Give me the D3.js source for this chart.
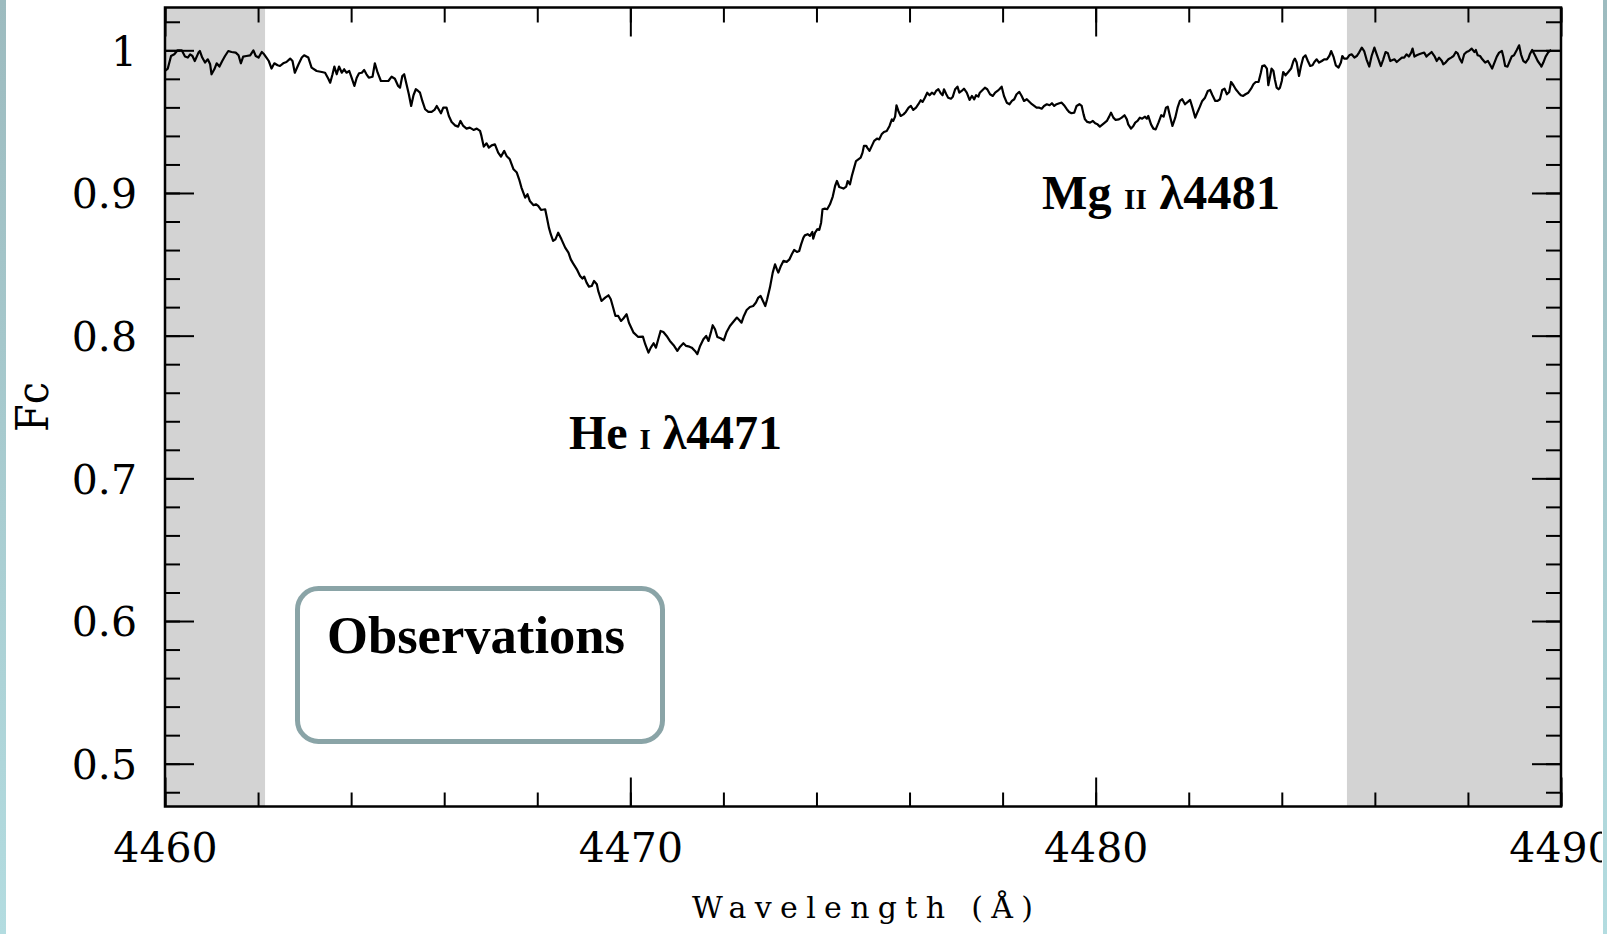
<!DOCTYPE html>
<html>
<head>
<meta charset="utf-8">
<script src="https://cdn.jsdelivr.net/npm/d3@7"></script>
<style>
  body { margin: 0; background: #fff; }
  svg { display: block; }
  .axis text { font-family: "DejaVu Serif", serif; font-size: 41px; fill: #000; }
  .axis line { stroke: #000; stroke-width: 2; }
  .axis .domain { display: none; }
</style>
</head>
<body>
<div id="chart"></div>
<script>
const spectrum_4460_4470 = [
  [4460.00,0.9855],[4460.06,0.9872],[4460.13,0.9960],[4460.20,0.9972],[4460.27,1.0000],[4460.36,1.0000],[4460.43,0.9956],[4460.49,0.9949],
  [4460.54,0.9972],[4460.59,0.9960],[4460.64,0.9925],[4460.72,0.9984],[4460.75,0.9995],[4460.80,0.9949],[4460.86,0.9914],[4460.92,0.9937],
  [4460.97,0.9902],[4461.00,0.9832],[4461.06,0.9867],[4461.11,0.9909],[4461.17,0.9886],[4461.23,0.9925],[4461.29,0.9960],[4461.36,0.9995],
  [4461.43,0.9988],[4461.52,0.9984],[4461.58,0.9965],[4461.63,0.9909],[4461.68,0.9956],[4461.75,0.9960],[4461.83,0.9965],[4461.90,1.0000],
  [4461.95,0.9960],[4462.01,0.9949],[4462.08,0.9988],[4462.13,0.9972],[4462.18,0.9949],[4462.23,0.9925],[4462.29,0.9872],[4462.35,0.9909],
  [4462.42,0.9895],[4462.47,0.9890],[4462.54,0.9909],[4462.61,0.9918],[4462.69,0.9942],[4462.74,0.9925],[4462.79,0.9843],[4462.87,0.9902],
  [4462.94,0.9949],[4462.99,0.9965],[4463.08,0.9949],[4463.15,0.9879],[4463.26,0.9855],[4463.37,0.9848],[4463.44,0.9843],[4463.51,0.9801],
  [4463.55,0.9773],[4463.60,0.9832],[4463.64,0.9886],[4463.69,0.9832],[4463.74,0.9886],[4463.80,0.9843],[4463.85,0.9867],[4463.90,0.9843],
  [4463.96,0.9855],[4464.01,0.9808],[4464.07,0.9750],[4464.12,0.9808],[4464.17,0.9839],[4464.23,0.9843],[4464.28,0.9862],[4464.33,0.9832],
  [4464.38,0.9808],[4464.46,0.9815],[4464.51,0.9909],[4464.57,0.9843],[4464.64,0.9785],[4464.73,0.9785],[4464.80,0.9785],[4464.87,0.9815],
  [4464.94,0.9801],[4465.01,0.9750],[4465.05,0.9738],[4465.10,0.9820],[4465.14,0.9832],[4465.19,0.9762],[4465.24,0.9692],[4465.29,0.9610],
  [4465.34,0.9685],[4465.39,0.9727],[4465.44,0.9715],[4465.48,0.9703],[4465.53,0.9645],[4465.59,0.9587],[4465.66,0.9568],[4465.73,0.9568],
  [4465.79,0.9582],[4465.84,0.9610],[4465.89,0.9582],[4465.93,0.9559],[4465.98,0.9598],[4466.05,0.9598],[4466.10,0.9540],[4466.16,0.9498],
  [4466.23,0.9474],[4466.30,0.9465],[4466.35,0.9505],[4466.41,0.9470],[4466.48,0.9451],[4466.55,0.9458],[4466.63,0.9442],[4466.70,0.9451],
  [4466.77,0.9435],[4466.80,0.9400],[4466.85,0.9325],[4466.91,0.9348],[4466.96,0.9318],[4467.02,0.9334],[4467.09,0.9341],[4467.16,0.9283],
  [4467.22,0.9255],[4467.29,0.9295],[4467.34,0.9260],[4467.41,0.9236],[4467.49,0.9166],[4467.56,0.9143],[4467.61,0.9096],[4467.66,0.9038],
  [4467.74,0.8967],[4467.79,0.8991],[4467.84,0.8944],[4467.92,0.8914],[4467.97,0.8921],[4468.02,0.8909],[4468.08,0.8881],[4468.17,0.8886],
  [4468.20,0.8839],[4468.25,0.8757],[4468.29,0.8711],[4468.34,0.8664],[4468.39,0.8675],[4468.45,0.8722],[4468.52,0.8675],[4468.60,0.8617],
  [4468.67,0.8582],[4468.72,0.8535],[4468.77,0.8507],[4468.85,0.8465],[4468.92,0.8418],[4468.97,0.8400],[4469.01,0.8414],[4469.06,0.8372],
  [4469.11,0.8344],[4469.17,0.8348],[4469.22,0.8383],[4469.28,0.8360],[4469.31,0.8314],[4469.38,0.8243],[4469.46,0.8267],[4469.53,0.8283],
  [4469.58,0.8255],[4469.63,0.8197],[4469.68,0.8138],[4469.74,0.8138],[4469.80,0.8103],[4469.85,0.8120],[4469.92,0.8150],[4469.97,0.8091]
];

const spectrum_4470_4480 = [
  [4470.07,0.8021],[4470.17,0.7991],[4470.27,0.7993],[4470.32,0.7940],[4470.39,0.7881],[4470.44,0.7916],[4470.50,0.7947],[4470.55,0.7916],
  [4470.60,0.7975],[4470.65,0.8033],[4470.71,0.8026],[4470.78,0.7998],[4470.85,0.7963],[4470.93,0.7933],[4471.01,0.7893],[4471.07,0.7923],
  [4471.14,0.7947],[4471.20,0.7928],[4471.27,0.7923],[4471.32,0.7916],[4471.39,0.7893],[4471.44,0.7870],[4471.50,0.7928],[4471.57,0.7975],
  [4471.63,0.7998],[4471.68,0.7963],[4471.73,0.8021],[4471.77,0.8073],[4471.82,0.8045],[4471.87,0.7991],[4471.94,0.7982],[4472.01,0.7968],
  [4472.07,0.8026],[4472.14,0.8068],[4472.21,0.8096],[4472.29,0.8127],[4472.34,0.8110],[4472.39,0.8091],[4472.44,0.8138],[4472.50,0.8180],
  [4472.57,0.8201],[4472.64,0.8208],[4472.70,0.8232],[4472.75,0.8267],[4472.80,0.8278],[4472.85,0.8243],[4472.90,0.8208],[4472.94,0.8255],
  [4473.00,0.8337],[4473.06,0.8442],[4473.11,0.8500],[4473.15,0.8465],[4473.18,0.8442],[4473.23,0.8484],[4473.29,0.8524],[4473.36,0.8517],
  [4473.42,0.8535],[4473.47,0.8570],[4473.52,0.8601],[4473.58,0.8587],[4473.63,0.8594],[4473.67,0.8640],[4473.72,0.8687],[4473.75,0.8703],
  [4473.81,0.8711],[4473.86,0.8699],[4473.91,0.8727],[4473.93,0.8680],[4473.97,0.8722],[4474.02,0.8746],[4474.06,0.8741],[4474.10,0.8792],
  [4474.13,0.8886],[4474.18,0.8890],[4474.23,0.8886],[4474.29,0.8921],[4474.35,0.8975],[4474.40,0.9049],[4474.44,0.9084],[4474.49,0.9042],
  [4474.58,0.9031],[4474.64,0.9045],[4474.67,0.9084],[4474.72,0.9061],[4474.76,0.9119],[4474.81,0.9178],[4474.85,0.9224],[4474.90,0.9236],
  [4474.95,0.9248],[4474.99,0.9283],[4475.02,0.9330],[4475.07,0.9330],[4475.09,0.9318],[4475.14,0.9295],[4475.19,0.9330],[4475.24,0.9365],
  [4475.30,0.9381],[4475.35,0.9376],[4475.40,0.9411],[4475.45,0.9428],[4475.51,0.9435],[4475.57,0.9470],[4475.62,0.9516],[4475.65,0.9505],
  [4475.69,0.9535],[4475.72,0.9615],[4475.76,0.9575],[4475.81,0.9540],[4475.87,0.9551],[4475.92,0.9568],[4475.98,0.9598],[4476.03,0.9610],
  [4476.08,0.9582],[4476.14,0.9598],[4476.19,0.9622],[4476.24,0.9650],[4476.28,0.9638],[4476.33,0.9668],[4476.38,0.9703],[4476.43,0.9685],
  [4476.48,0.9703],[4476.53,0.9692],[4476.57,0.9715],[4476.62,0.9727],[4476.67,0.9699],[4476.71,0.9685],[4476.74,0.9727],[4476.79,0.9692],
  [4476.83,0.9668],[4476.89,0.9661],[4476.93,0.9675],[4476.98,0.9727],[4477.03,0.9745],[4477.07,0.9703],[4477.12,0.9715],[4477.17,0.9731],
  [4477.23,0.9703],[4477.29,0.9652],[4477.34,0.9680],[4477.39,0.9657],[4477.43,0.9685],[4477.48,0.9675],[4477.51,0.9703],[4477.57,0.9722],
  [4477.62,0.9738],[4477.67,0.9727],[4477.73,0.9692],[4477.79,0.9680],[4477.84,0.9703],[4477.89,0.9715],[4477.93,0.9727],[4477.98,0.9745],
  [4478.03,0.9680],[4478.09,0.9633],[4478.15,0.9622],[4478.20,0.9645],[4478.25,0.9657],[4478.30,0.9692],[4478.36,0.9708],[4478.41,0.9680],
  [4478.46,0.9645],[4478.52,0.9657],[4478.58,0.9638],[4478.63,0.9622],[4478.68,0.9610],[4478.73,0.9598],[4478.79,0.9598],[4478.84,0.9591],
  [4478.89,0.9610],[4478.95,0.9622],[4479.01,0.9615],[4479.06,0.9629],[4479.11,0.9610],[4479.16,0.9622],[4479.22,0.9629],[4479.27,0.9633],
  [4479.32,0.9615],[4479.38,0.9587],[4479.43,0.9568],[4479.48,0.9559],[4479.54,0.9563],[4479.59,0.9610],[4479.65,0.9622],[4479.70,0.9610],
  [4479.74,0.9551],[4479.77,0.9516],[4479.82,0.9498],[4479.88,0.9493],[4479.94,0.9505],[4479.99,0.9488],[4480.04,0.9481],[4480.09,0.9465]
];

const spectrum_4480_4490 = [
  [4480.17,0.9486],[4480.24,0.9505],[4480.29,0.9535],[4480.33,0.9563],[4480.38,0.9528],[4480.43,0.9512],[4480.50,0.9516],[4480.56,0.9528],
  [4480.62,0.9545],[4480.67,0.9516],[4480.70,0.9481],[4480.76,0.9451],[4480.81,0.9470],[4480.85,0.9493],[4480.90,0.9505],[4480.95,0.9528],
  [4481.00,0.9521],[4481.06,0.9535],[4481.10,0.9521],[4481.13,0.9540],[4481.19,0.9481],[4481.24,0.9451],[4481.29,0.9446],[4481.35,0.9493],
  [4481.41,0.9545],[4481.46,0.9535],[4481.51,0.9598],[4481.55,0.9605],[4481.60,0.9535],[4481.65,0.9470],[4481.71,0.9528],[4481.76,0.9598],
  [4481.81,0.9645],[4481.86,0.9657],[4481.92,0.9622],[4481.98,0.9638],[4482.03,0.9652],[4482.08,0.9598],[4482.14,0.9528],[4482.19,0.9568],
  [4482.24,0.9605],[4482.29,0.9645],[4482.35,0.9668],[4482.41,0.9715],[4482.46,0.9722],[4482.51,0.9685],[4482.57,0.9645],[4482.62,0.9645],
  [4482.67,0.9657],[4482.72,0.9722],[4482.77,0.9731],[4482.82,0.9692],[4482.87,0.9708],[4482.91,0.9778],[4482.96,0.9755],[4483.01,0.9727],
  [4483.07,0.9703],[4483.12,0.9685],[4483.17,0.9680],[4483.22,0.9692],[4483.28,0.9703],[4483.34,0.9731],[4483.39,0.9762],[4483.44,0.9778],
  [4483.50,0.9778],[4483.55,0.9843],[4483.58,0.9890],[4483.63,0.9895],[4483.68,0.9872],[4483.71,0.9755],[4483.75,0.9820],[4483.78,0.9872],
  [4483.82,0.9855],[4483.85,0.9797],[4483.89,0.9738],[4483.93,0.9727],[4483.96,0.9738],[4484.00,0.9785],[4484.03,0.9848],[4484.08,0.9825],
  [4484.14,0.9848],[4484.20,0.9872],[4484.25,0.9925],[4484.28,0.9942],[4484.32,0.9914],[4484.37,0.9820],[4484.41,0.9886],[4484.46,0.9949],
  [4484.51,0.9965],[4484.56,0.9925],[4484.61,0.9890],[4484.66,0.9895],[4484.70,0.9918],[4484.75,0.9937],[4484.80,0.9914],[4484.86,0.9925],
  [4484.91,0.9937],[4484.97,0.9937],[4485.02,0.9960],[4485.06,0.9995],[4485.11,0.9956],[4485.16,0.9895],[4485.22,0.9879],[4485.27,0.9914],
  [4485.30,0.9960],[4485.34,0.9942],[4485.40,0.9942],[4485.45,0.9965],[4485.50,0.9972],[4485.56,0.9949],[4485.61,0.9960],[4485.66,0.9984],
  [4485.72,1.0019],[4485.77,0.9995],[4485.82,0.9937],[4485.88,0.9886],[4485.93,0.9960],[4485.99,1.0019],[4486.04,0.9972],[4486.09,0.9925],
  [4486.13,0.9890],[4486.18,0.9937],[4486.23,0.9988],[4486.28,0.9979],[4486.33,0.9925],[4486.38,0.9932],[4486.42,0.9937],[4486.47,0.9918],
  [4486.52,0.9932],[4486.58,0.9949],[4486.63,0.9949],[4486.68,0.9972],[4486.73,0.9956],[4486.78,0.9984],[4486.81,1.0012],[4486.85,0.9956],
  [4486.90,0.9965],[4486.95,0.9972],[4487.01,0.9979],[4487.06,0.9984],[4487.11,0.9956],[4487.16,0.9972],[4487.22,0.9988],[4487.28,0.9960],
  [4487.33,0.9925],[4487.38,0.9949],[4487.44,0.9925],[4487.47,0.9902],[4487.52,0.9914],[4487.58,0.9937],[4487.64,0.9949],[4487.69,0.9960],
  [4487.74,0.9988],[4487.78,0.9979],[4487.83,0.9937],[4487.87,0.9914],[4487.92,0.9972],[4487.97,0.9988],[4488.02,0.9995],[4488.08,1.0012],
  [4488.14,0.9988],[4488.17,1.0002],[4488.21,0.9965],[4488.26,0.9960],[4488.31,0.9937],[4488.37,0.9914],[4488.43,0.9925],[4488.47,0.9902],
  [4488.52,0.9872],[4488.57,0.9914],[4488.62,0.9956],[4488.67,0.9984],[4488.73,0.9995],[4488.76,0.9956],[4488.80,0.9890],[4488.85,0.9886],
  [4488.90,0.9925],[4488.94,0.9956],[4488.99,0.9965],[4489.05,1.0002],[4489.10,1.0035],[4489.14,0.9972],[4489.19,0.9925],[4489.24,0.9914],
  [4489.30,0.9942],[4489.33,0.9972],[4489.38,1.0002],[4489.44,0.9965],[4489.50,0.9925],[4489.55,0.9902],[4489.58,0.9886],[4489.62,0.9914],
  [4489.67,0.9956],[4489.73,0.9988],[4489.79,1.0002]
];

// continuum windows (grey bands)
const continuum_windows = [[4460, 4462.15], [4485.4, 4490]];

const x_domain = [4460, 4490];
const y_domain = [0.47, 1.03];
const x_major_ticks = [4460, 4470, 4480, 4490];
const x_minor_ticks = d3.range(4460, 4491, 2);
const y_major_ticks = [0.5, 0.6, 0.7, 0.8, 0.9, 1];
const y_minor_ticks = d3.range(24, 52).map(function(i) { return i / 50; });

const x_title = "Wavelength (Å)";
const y_title = "Fc";
const box_title = "Observations";

const W = 1607, H = 934;
const plot = {left: 165, right: 1561, top: 7.5, bottom: 806.5};

var spectrum = spectrum_4460_4470.concat(spectrum_4470_4480, spectrum_4480_4490);

var svg = d3.select("#chart")
  .append("svg")
    .attr("width", W)
    .attr("height", H);

var x = d3.scaleLinear().domain(x_domain).range([plot.left, plot.right]);
var y = d3.scaleLinear().domain(y_domain).range([plot.bottom, plot.top]);

// grey continuum windows
svg.append("g")
  .selectAll("rect")
  .data(continuum_windows)
  .enter()
  .append("rect")
    .attr("x", function(d) { return x(d[0]); })
    .attr("y", plot.top)
    .attr("width", function(d) { return x(d[1]) - x(d[0]); })
    .attr("height", plot.bottom - plot.top)
    .attr("fill", "#d3d3d3");

// spectrum
svg.append("path")
  .datum(spectrum)
  .attr("fill", "none")
  .attr("stroke", "#000")
  .attr("stroke-width", 2.2)
  .attr("stroke-linejoin", "round")
  .attr("d", d3.line()
    .x(function(d) { return x(d[0]); })
    .y(function(d) { return y(d[1]); }));

// ticks on all four sides, pointing inward
var fmtY = function(d) { return d === 1 ? "1" : d.toFixed(1); };

svg.append("g").attr("class", "axis")
  .attr("transform", "translate(" + plot.left + ",0)")
  .call(d3.axisLeft(y).tickValues(y_minor_ticks).tickSize(-15).tickFormat(""));
svg.append("g").attr("class", "axis")
  .attr("transform", "translate(" + plot.left + ",0)")
  .call(d3.axisLeft(y).tickValues(y_major_ticks).tickSize(-29).tickPadding(28).tickFormat(fmtY))
  .selectAll("text").attr("dy", "0.36em");

svg.append("g").attr("class", "axis")
  .attr("transform", "translate(" + plot.right + ",0)")
  .call(d3.axisRight(y).tickValues(y_minor_ticks).tickSize(-15).tickFormat(""));
svg.append("g").attr("class", "axis")
  .attr("transform", "translate(" + plot.right + ",0)")
  .call(d3.axisRight(y).tickValues(y_major_ticks).tickSize(-29).tickFormat(""));

svg.append("g").attr("class", "axis")
  .attr("transform", "translate(0," + plot.bottom + ")")
  .call(d3.axisBottom(x).tickValues(x_minor_ticks).tickSize(-14).tickFormat(""));
svg.append("g").attr("class", "axis")
  .attr("transform", "translate(0," + plot.bottom + ")")
  .call(d3.axisBottom(x).tickValues(x_major_ticks).tickSize(-29).tickPadding(26).tickFormat(d3.format("d")));

svg.append("g").attr("class", "axis")
  .attr("transform", "translate(0," + plot.top + ")")
  .call(d3.axisTop(x).tickValues(x_minor_ticks).tickSize(-15).tickFormat(""));
svg.append("g").attr("class", "axis")
  .attr("transform", "translate(0," + plot.top + ")")
  .call(d3.axisTop(x).tickValues(x_major_ticks).tickSize(-29).tickFormat(""));

// frame
svg.append("rect")
  .attr("x", plot.left)
  .attr("y", plot.top)
  .attr("width", plot.right - plot.left)
  .attr("height", plot.bottom - plot.top)
  .attr("fill", "none")
  .attr("stroke", "#000")
  .attr("stroke-width", 2.5);

// axis titles
svg.append("text")
  .attr("x", 692)
  .attr("y", 918)
  .attr("font-family", "DejaVu Serif")
  .attr("font-size", 30)
  .attr("textLength", 341)
  .attr("lengthAdjust", "spacing")
  .text(x_title);

svg.append("text")
  .attr("transform", "translate(48,432) rotate(-90)")
  .attr("font-family", "DejaVu Serif")
  .attr("font-size", 44)
  .attr("textLength", 50)
  .attr("lengthAdjust", "spacingAndGlyphs")
  .text(y_title);

// line identifications, ion stage in small capitals
var label = function(px, py, len, el, ion, wl) {
  var t = svg.append("text")
    .attr("x", px).attr("y", py)
    .attr("font-family", "Liberation Serif, serif")
    .attr("font-weight", "bold")
    .attr("font-size", 48)
    .attr("textLength", len)
    .attr("lengthAdjust", "spacing");
  t.append("tspan").text(el + " ");
  t.append("tspan").attr("font-size", 29).text(ion);
  t.append("tspan").text(" " + wl);
};
label(569, 449, 213, "He", "I", "λ4471");
label(1042, 209, 238, "Mg", "II", "λ4481");

// legend-like box
svg.append("rect")
  .attr("x", 297.5)
  .attr("y", 588.5)
  .attr("width", 365)
  .attr("height", 153)
  .attr("rx", 21)
  .attr("fill", "none")
  .attr("stroke", "#8aa4a7")
  .attr("stroke-width", 5);

svg.append("text")
  .attr("x", 327)
  .attr("y", 653)
  .attr("font-family", "Liberation Serif, serif")
  .attr("font-weight", "bold")
  .attr("font-size", 52)
  .attr("textLength", 298)
  .attr("lengthAdjust", "spacingAndGlyphs")
  .text(box_title);

// slide edges
var edge = svg.append("defs").append("linearGradient")
  .attr("id", "edge").attr("x1", 0).attr("y1", 0).attr("x2", 0).attr("y2", 1);
edge.append("stop").attr("offset", 0).attr("stop-color", "#9dbbbf");
edge.append("stop").attr("offset", 1).attr("stop-color", "#b3dce0");

svg.append("rect").attr("x", 0).attr("y", 0).attr("width", 6).attr("height", H).attr("fill", "url(#edge)");
svg.append("rect").attr("x", 1602).attr("y", 0).attr("width", 5).attr("height", H).attr("fill", "#fff");
svg.append("rect").attr("x", 1603).attr("y", 0).attr("width", 4).attr("height", H).attr("fill", "url(#edge)");
</script>
</body>
</html>
